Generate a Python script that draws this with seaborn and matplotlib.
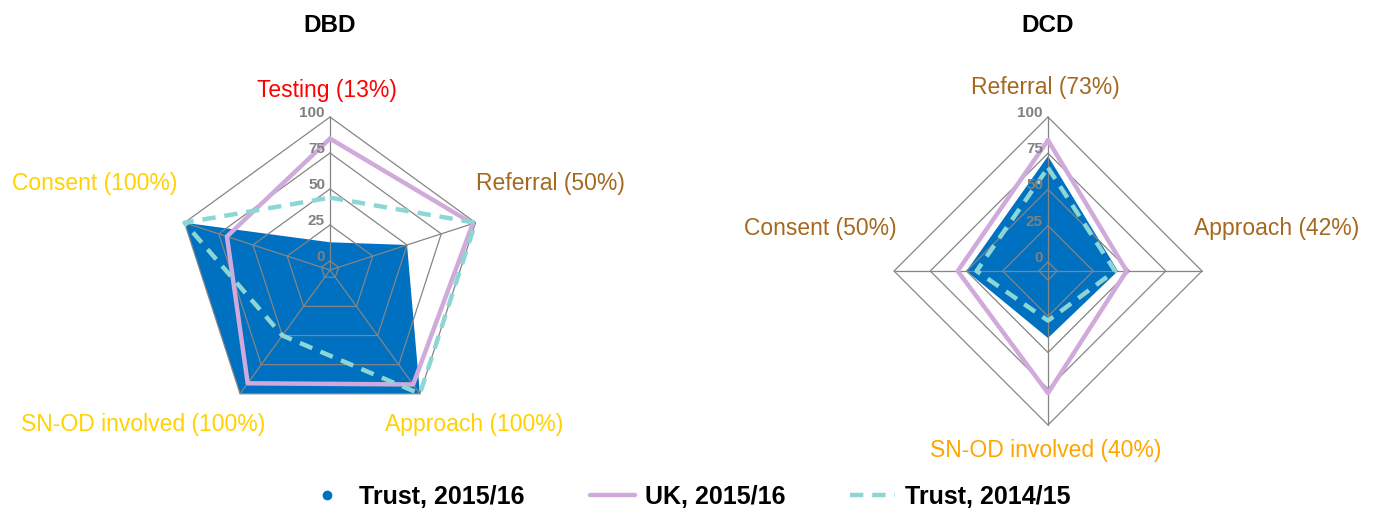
import numpy as np
import matplotlib.pyplot as plt
import seaborn as sns
from matplotlib.lines import Line2D

# DBD radar values (%)
dbd_axes = ['Testing', 'Referral', 'Approach', 'SN-OD involved', 'Consent']
dbd_trust_1516 = [13, 50, 100, 100, 100]
dbd_uk_1516 = [85, 98, 92, 91, 69]
dbd_trust_1415 = [44, 100, 100, 50, 100]
dbd_label_colors = ['#FF0000', '#A5681F', '#FFD200', '#FFD200', '#FFD200']

# DCD radar values (%)
dcd_axes = ['Referral', 'Approach', 'SN-OD involved', 'Consent']
dcd_trust_1516 = [73, 42, 40, 50]
dcd_uk_1516 = [84, 48, 78, 56]
dcd_trust_1415 = [65, 40, 28, 43]
dcd_label_colors = ['#A5681F', '#A5681F', '#FFA500', '#A5681F']

ring_ticks = [0, 25, 50, 75, 100]
series_names = ['Trust, 2015/16', 'UK, 2015/16', 'Trust, 2014/15']

BLUE = '#0070C0'
PURPLE = '#D0AADA'
TEAL = '#8CD7D5'
GRID = '#858585'
R_MIN = -6.25

sns.set_theme(style='white')
plt.rcParams['font.family'] = ['Liberation Sans', 'DejaVu Sans']
plt.rcParams['text.color'] = 'black'


def draw_radar(ax, cats, trust, uk, prev, colors, offsets):
    n = len(cats)
    theta = np.linspace(0, 2 * np.pi, n, endpoint=False)
    th_c = np.append(theta, 2 * np.pi)

    def close(v):
        return np.append(v, v[0])

    ax.set_theta_zero_location('N')
    ax.set_theta_direction(-1)
    ax.set_ylim(R_MIN, 100)
    ax.grid(False)
    ax.set_xticks([])
    ax.set_yticks([])
    ax.spines['polar'].set_visible(False)
    ax.patch.set_visible(False)

    # filled area for the current trust year
    ax.fill(th_c, close(trust), color=BLUE, lw=0, zorder=1, clip_on=False)

    # polygon grid
    for t in ring_ticks:
        ax.plot(th_c, [t] * (n + 1), color=GRID, lw=0.9, zorder=2, clip_on=False)
    for th in theta:
        ax.plot([th, th], [R_MIN, 100], color=GRID, lw=0.9, zorder=2, clip_on=False)

    sns.lineplot(x=th_c, y=close(uk), ax=ax, sort=False, color=PURPLE,
                 lw=3.2, zorder=3, clip_on=False)
    sns.lineplot(x=th_c, y=close(prev), ax=ax, sort=False, color=TEAL,
                 lw=3.2, linestyle=(0, (3, 2)), zorder=4, clip_on=False)
    ax.set_xlabel('')
    ax.set_ylabel('')

    for t in ring_ticks:
        ax.annotate(str(t), xy=(0, t), xytext=(-5, 4), textcoords='offset pixels',
                    ha='right', va='center', color='#808080', fontsize=11,
                    fontweight='bold', zorder=5)

    for th, name, val, col, off in zip(theta, cats, trust, colors, offsets):
        ax.annotate(f'{name} ({val}%)', xy=(th, 100), xytext=off,
                    textcoords='offset pixels', ha='center', va='center',
                    color=col, fontsize=16.5, annotation_clip=False)


fig = plt.figure(figsize=(13.75, 5.16), dpi=100)
W, H = 1375, 516

ax1 = fig.add_axes([(330 - 153) / W, (246 - 153) / H, 306 / W, 306 / H], projection='polar')
ax2 = fig.add_axes([(1048 - 154) / W, (245 - 154) / H, 308 / W, 308 / H], projection='polar')

draw_radar(ax1, dbd_axes, dbd_trust_1516, dbd_uk_1516, dbd_trust_1415, dbd_label_colors,
           [(-3, 27), (75, 39), (54, -31), (-97, -31), (-90, 39)])
draw_radar(ax2, dcd_axes, dcd_trust_1516, dcd_uk_1516, dcd_trust_1415, dcd_label_colors,
           [(-3, 30), (75, 43), (-2, -26), (-74, 43)])

fig.text(330 / W, 1 - 25 / H, 'DBD', ha='center', va='center', fontsize=17.5, fontweight='bold')
fig.text(1048 / W, 1 - 25 / H, 'DCD', ha='center', va='center', fontsize=17.5, fontweight='bold')

handles = [
    Line2D([], [], marker='o', ls='none', color=BLUE, markersize=6),
    Line2D([], [], color=PURPLE, lw=3.2),
    Line2D([], [], color=TEAL, lw=3.2, linestyle=(0, (3, 2))),
]
fig.legend(handles, series_names, loc='center', bbox_to_anchor=(0.5, 1 - 497 / H),
           ncol=3, frameon=False, prop={'weight': 'bold', 'size': 18},
           handlelength=1.8, columnspacing=2.6, handletextpad=0.4)

fig.savefig('out.png', dpi=100)
